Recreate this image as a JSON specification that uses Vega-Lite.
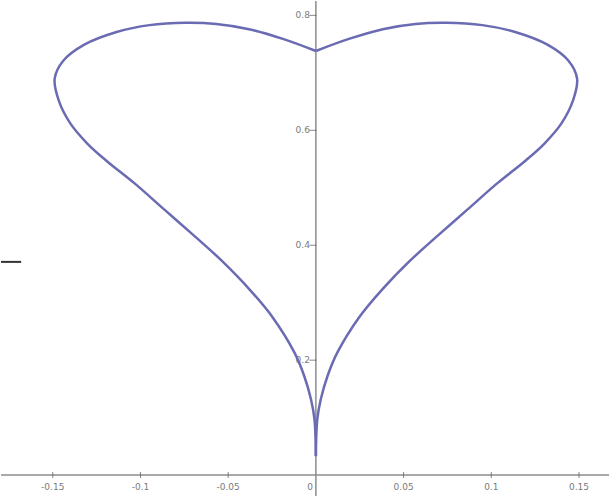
{
  "$schema": "https://vega.github.io/schema/vega-lite/v6.json",
  "width": 610,
  "height": 497,
  "padding": 0,
  "autosize": {"type": "fit", "contains": "padding"},
  "background": "white",
  "config": {"view": {"stroke": null}},
  "datasets": {
    "curve": [
      {"side": "right", "t": 0, "x": 0.0, "y": 0.738},
      {"side": "right", "t": 1, "x": 0.0188, "y": 0.759},
      {"side": "right", "t": 2, "x": 0.0381, "y": 0.776},
      {"side": "right", "t": 3, "x": 0.0568, "y": 0.785},
      {"side": "right", "t": 4, "x": 0.0740, "y": 0.787},
      {"side": "right", "t": 5, "x": 0.0949, "y": 0.783},
      {"side": "right", "t": 6, "x": 0.1136, "y": 0.771},
      {"side": "right", "t": 7, "x": 0.1320, "y": 0.749},
      {"side": "right", "t": 8, "x": 0.1440, "y": 0.721},
      {"side": "right", "t": 9, "x": 0.1489, "y": 0.690},
      {"side": "right", "t": 10, "x": 0.1466, "y": 0.652},
      {"side": "right", "t": 11, "x": 0.1400, "y": 0.612},
      {"side": "right", "t": 12, "x": 0.1303, "y": 0.577},
      {"side": "right", "t": 13, "x": 0.1198, "y": 0.548},
      {"side": "right", "t": 14, "x": 0.1035, "y": 0.508},
      {"side": "right", "t": 15, "x": 0.0860, "y": 0.461},
      {"side": "right", "t": 16, "x": 0.0685, "y": 0.414},
      {"side": "right", "t": 17, "x": 0.0540, "y": 0.374},
      {"side": "right", "t": 18, "x": 0.0375, "y": 0.322},
      {"side": "right", "t": 19, "x": 0.0250, "y": 0.276},
      {"side": "right", "t": 20, "x": 0.0122, "y": 0.213},
      {"side": "right", "t": 21, "x": 0.0066, "y": 0.172},
      {"side": "right", "t": 22, "x": 0.0028, "y": 0.132},
      {"side": "right", "t": 23, "x": 0.0008, "y": 0.097},
      {"side": "right", "t": 24, "x": 0.0, "y": 0.033},
      {"side": "left", "t": 0, "x": 0.0, "y": 0.738},
      {"side": "left", "t": 1, "x": -0.0188, "y": 0.759},
      {"side": "left", "t": 2, "x": -0.0381, "y": 0.776},
      {"side": "left", "t": 3, "x": -0.0568, "y": 0.785},
      {"side": "left", "t": 4, "x": -0.0740, "y": 0.787},
      {"side": "left", "t": 5, "x": -0.0949, "y": 0.783},
      {"side": "left", "t": 6, "x": -0.1136, "y": 0.771},
      {"side": "left", "t": 7, "x": -0.1320, "y": 0.749},
      {"side": "left", "t": 8, "x": -0.1440, "y": 0.721},
      {"side": "left", "t": 9, "x": -0.1489, "y": 0.690},
      {"side": "left", "t": 10, "x": -0.1466, "y": 0.652},
      {"side": "left", "t": 11, "x": -0.1400, "y": 0.612},
      {"side": "left", "t": 12, "x": -0.1303, "y": 0.577},
      {"side": "left", "t": 13, "x": -0.1198, "y": 0.548},
      {"side": "left", "t": 14, "x": -0.1035, "y": 0.508},
      {"side": "left", "t": 15, "x": -0.0860, "y": 0.461},
      {"side": "left", "t": 16, "x": -0.0685, "y": 0.414},
      {"side": "left", "t": 17, "x": -0.0540, "y": 0.374},
      {"side": "left", "t": 18, "x": -0.0375, "y": 0.322},
      {"side": "left", "t": 19, "x": -0.0250, "y": 0.276},
      {"side": "left", "t": 20, "x": -0.0122, "y": 0.213},
      {"side": "left", "t": 21, "x": -0.0066, "y": 0.172},
      {"side": "left", "t": 22, "x": -0.0028, "y": 0.132},
      {"side": "left", "t": 23, "x": -0.0008, "y": 0.097},
      {"side": "left", "t": 24, "x": 0.0, "y": 0.033}
    ],
    "xticks": [
      {"v": -0.15, "label": "-0.15"},
      {"v": -0.1, "label": "-0.1"},
      {"v": -0.05, "label": "-0.05"},
      {"v": 0.05, "label": "0.05"},
      {"v": 0.1, "label": "0.1"},
      {"v": 0.15, "label": "0.15"}
    ],
    "yticks": [
      {"v": 0.2, "label": "0.2"},
      {"v": 0.4, "label": "0.4"},
      {"v": 0.6, "label": "0.6"},
      {"v": 0.8, "label": "0.8"}
    ],
    "origin": [{"x": 0, "y": 0, "label": "0"}],
    "stub": [{"x": -0.1795, "x2": -0.168, "y": 0.371}]
  },
  "encoding": {
    "x": {"type": "quantitative", "scale": {"domain": [-0.1795, 0.1671], "nice": false, "zero": false}, "axis": null},
    "y": {"type": "quantitative", "scale": {"domain": [-0.0364, 0.825], "nice": false, "zero": false}, "axis": null}
  },
  "layer": [
    {
      "data": {"name": "origin"},
      "mark": {"type": "rule", "color": "#8c8c8c", "strokeWidth": 1.5},
      "encoding": {"x": {"field": "x", "type": "quantitative"}}
    },
    {
      "data": {"name": "origin"},
      "mark": {"type": "rule", "color": "#8c8c8c", "strokeWidth": 1.5},
      "encoding": {"y": {"field": "y", "type": "quantitative"}}
    },
    {
      "data": {"name": "stub"},
      "mark": {"type": "rule", "color": "#333333", "strokeWidth": 2},
      "encoding": {
        "x": {"field": "x", "type": "quantitative"},
        "x2": {"field": "x2"},
        "y": {"field": "y", "type": "quantitative"}
      }
    },
    {
      "data": {"name": "xticks"},
      "mark": {"type": "tick", "orient": "vertical", "color": "#555555", "size": 6, "thickness": 1},
      "encoding": {
        "x": {"field": "v", "type": "quantitative"},
        "y": {"datum": 0, "type": "quantitative"}
      }
    },
    {
      "data": {"name": "xticks"},
      "mark": {"type": "text", "color": "#7a7a7a", "fontSize": 9, "font": "DejaVu Sans", "baseline": "middle", "dy": 12},
      "encoding": {
        "x": {"field": "v", "type": "quantitative"},
        "y": {"datum": 0, "type": "quantitative"},
        "text": {"field": "label"}
      }
    },
    {
      "data": {"name": "yticks"},
      "mark": {"type": "tick", "orient": "horizontal", "color": "#555555", "size": 7, "thickness": 1, "xOffset": -3},
      "encoding": {
        "x": {"datum": 0, "type": "quantitative"},
        "y": {"field": "v", "type": "quantitative"}
      }
    },
    {
      "data": {"name": "yticks"},
      "mark": {"type": "text", "color": "#7a7a7a", "fontSize": 9, "font": "DejaVu Sans", "align": "right", "baseline": "middle", "dx": -6},
      "encoding": {
        "x": {"datum": 0, "type": "quantitative"},
        "y": {"field": "v", "type": "quantitative"},
        "text": {"field": "label"}
      }
    },
    {
      "data": {"name": "origin"},
      "mark": {"type": "text", "color": "#7a7a7a", "fontSize": 9, "font": "DejaVu Sans", "align": "right", "baseline": "middle", "dx": -3, "dy": 12},
      "encoding": {
        "x": {"field": "x", "type": "quantitative"},
        "y": {"field": "y", "type": "quantitative"},
        "text": {"field": "label"}
      }
    },
    {
      "data": {"name": "curve"},
      "mark": {"type": "line", "color": "#6b6bb3", "strokeWidth": 2.5, "interpolate": "catmull-rom"},
      "encoding": {
        "x": {"field": "x", "type": "quantitative"},
        "y": {"field": "y", "type": "quantitative"},
        "detail": {"field": "side"},
        "order": {"field": "t", "type": "quantitative"}
      }
    }
  ]
}
